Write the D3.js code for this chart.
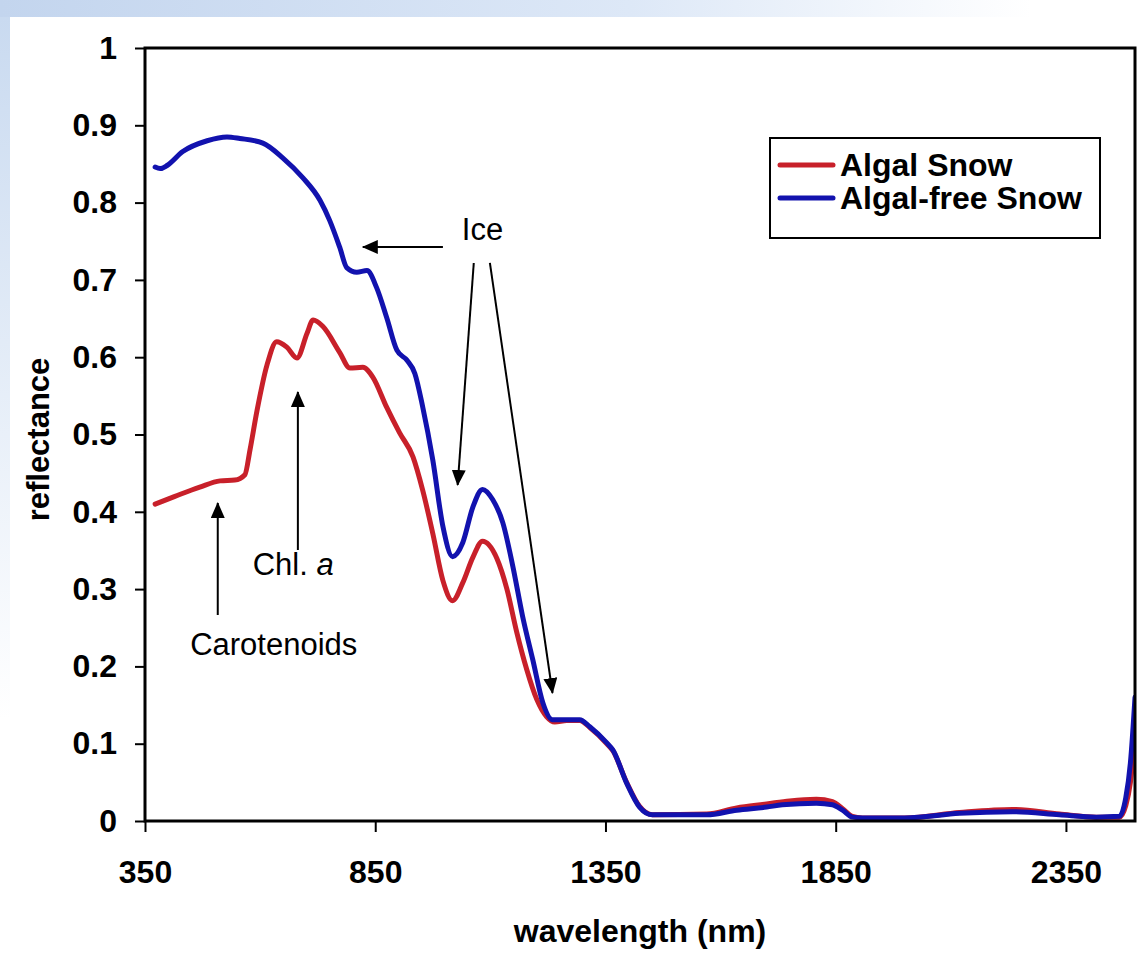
<!DOCTYPE html>
<html>
<head>
<meta charset="utf-8">
<script src="https://cdn.jsdelivr.net/npm/d3@7"></script>
<style>
  html, body { margin: 0; padding: 0; background: #ffffff; }
  svg { display: block; }
  text { font-family: "Liberation Sans", Arial, Helvetica, sans-serif; fill: #000; }
</style>
</head>
<body>
<svg id="chart" width="1146" height="954"></svg>
<script>
// Reflectance spectra of snow, with and without snow algae
const algalWavelengths = [372, 415, 469, 513, 545, 567, 578, 593, 615, 636, 658, 680, 702, 715, 736, 773, 795, 823, 845, 875, 903, 932, 953, 975, 997, 1018, 1040, 1062, 1083, 1114, 1136, 1157, 1179, 1201, 1222, 1240, 1266, 1294, 1316, 1353, 1366, 1396, 1424, 1452, 1570, 1635, 1700, 1750, 1808, 1843, 1865, 1886, 1908, 2000, 2119, 2234, 2336, 2416, 2466, 2480, 2490, 2500];
const algalSnow = [0.41, 0.42, 0.432, 0.44, 0.441, 0.448, 0.48, 0.53, 0.59, 0.62, 0.613, 0.599, 0.631, 0.648, 0.64, 0.606, 0.586, 0.587, 0.574, 0.535, 0.502, 0.471, 0.428, 0.372, 0.311, 0.285, 0.308, 0.341, 0.362, 0.34, 0.30, 0.245, 0.196, 0.157, 0.135, 0.128, 0.13, 0.13, 0.121, 0.10, 0.091, 0.05, 0.019, 0.008, 0.009, 0.017, 0.022, 0.026, 0.028, 0.025, 0.016, 0.006, 0.004, 0.004, 0.011, 0.015, 0.009, 0.005, 0.005, 0.02, 0.05, 0.11];

const freeWavelengths = [372, 383, 398, 432, 485, 528, 556, 606, 649, 693, 730, 751, 773, 788, 810, 832, 853, 875, 897, 919, 936, 953, 975, 997, 1018, 1040, 1062, 1083, 1105, 1127, 1149, 1170, 1192, 1214, 1235, 1266, 1294, 1316, 1353, 1366, 1396, 1424, 1452, 1570, 1635, 1700, 1734, 1808, 1843, 1865, 1886, 1908, 2000, 2119, 2234, 2336, 2416, 2466, 2480, 2490, 2500];
const algalFreeSnow = [0.846, 0.844, 0.848, 0.866, 0.880, 0.885, 0.883, 0.877, 0.858, 0.832, 0.803, 0.777, 0.742, 0.716, 0.71, 0.712, 0.690, 0.651, 0.609, 0.596, 0.579, 0.536, 0.467, 0.381, 0.342, 0.360, 0.406, 0.429, 0.416, 0.386, 0.329, 0.265, 0.209, 0.153, 0.131, 0.131, 0.131, 0.122, 0.101, 0.092, 0.049, 0.018, 0.008, 0.008, 0.014, 0.018, 0.021, 0.023, 0.021, 0.014, 0.005, 0.004, 0.004, 0.010, 0.012, 0.008, 0.005, 0.006, 0.03, 0.075, 0.16];

const xTicks = [350, 850, 1350, 1850, 2350];
const yTicks = [0, 0.1, 0.2, 0.3, 0.4, 0.5, 0.6, 0.7, 0.8, 0.9, 1];

const seriesNames = ["Algal Snow", "Algal-free Snow"];
const seriesColors = ["#c8202a", "#1212ae"];

const svg = d3.select("#chart");
const W = 1146, H = 954;
const plot = { left: 145, right: 1135, top: 48, bottom: 821 };

// Slide backdrop: soft blue bands along the top and left edges
const defs = svg.append("defs");
const gTop = defs.append("linearGradient").attr("id", "bgTop").attr("x1", 0).attr("x2", 1).attr("y1", 0).attr("y2", 0);
gTop.append("stop").attr("offset", "0%").attr("stop-color", "#c3d5ee");
gTop.append("stop").attr("offset", "55%").attr("stop-color", "#dde8f7");
gTop.append("stop").attr("offset", "90%").attr("stop-color", "#ffffff");
const gLeft = defs.append("linearGradient").attr("id", "bgLeft").attr("x1", 0).attr("x2", 0).attr("y1", 0).attr("y2", 1);
gLeft.append("stop").attr("offset", "0%").attr("stop-color", "#c9daf0");
gLeft.append("stop").attr("offset", "75%").attr("stop-color", "#ffffff");

svg.append("rect").attr("width", W).attr("height", H).attr("fill", "#ffffff");
svg.append("rect").attr("x", 0).attr("y", 0).attr("width", W).attr("height", 17).attr("fill", "url(#bgTop)");
svg.append("rect").attr("x", 0).attr("y", 17).attr("width", 10).attr("height", H - 17).attr("fill", "url(#bgLeft)");

defs.append("clipPath").attr("id", "plotClip")
  .append("rect").attr("x", plot.left).attr("y", plot.top)
  .attr("width", plot.right - plot.left).attr("height", plot.bottom - plot.top);

defs.append("marker").attr("id", "arrowHead")
  .attr("markerUnits", "userSpaceOnUse")
  .attr("viewBox", "0 0 16 14").attr("refX", 15).attr("refY", 7)
  .attr("markerWidth", 16).attr("markerHeight", 14).attr("orient", "auto")
  .append("path").attr("d", "M0,0 L16,7 L0,14 Z").attr("fill", "#000");

const x = d3.scaleLinear().domain([350, 2500]).range([plot.left, plot.right]);
const y = d3.scaleLinear().domain([0, 1]).range([plot.bottom, plot.top]);

// Axes
const xAxis = svg.append("g").attr("transform", `translate(0,${plot.bottom})`)
  .call(d3.axisBottom(x).tickValues(xTicks).tickSize(11).tickSizeOuter(0).tickPadding(28).tickFormat(d3.format("d")));
const yAxis = svg.append("g").attr("transform", `translate(${plot.left},0)`)
  .call(d3.axisLeft(y).tickValues(yTicks).tickSize(10).tickSizeOuter(0).tickPadding(18).tickFormat(d => d3.format("")(+d.toFixed(1))));
[xAxis, yAxis].forEach(g => {
  g.select(".domain").remove();
  g.selectAll(".tick line").attr("stroke", "#000").attr("stroke-width", 2);
  g.selectAll(".tick text").attr("font-size", 32).attr("font-weight", "bold")
    .style("font-family", '"Liberation Sans", Arial, sans-serif').attr("fill", "#000");
});

// Spectra
const line = d3.line().x(d => x(d[0])).y(d => y(d[1])).curve(d3.curveMonotoneX);
const series = [
  d3.zip(algalWavelengths, algalSnow),
  d3.zip(freeWavelengths, algalFreeSnow)
];
svg.append("g").attr("clip-path", "url(#plotClip)")
  .selectAll("path").data(series).join("path")
  .attr("d", line)
  .attr("fill", "none")
  .attr("stroke", (d, i) => seriesColors[i])
  .attr("stroke-width", 5)
  .attr("stroke-linejoin", "round")
  .attr("stroke-linecap", "round");

// Plot frame
svg.append("rect").attr("x", plot.left).attr("y", plot.top)
  .attr("width", plot.right - plot.left).attr("height", plot.bottom - plot.top)
  .attr("fill", "none").attr("stroke", "#000").attr("stroke-width", 3);

// Axis titles
svg.append("text").attr("x", (plot.left + plot.right) / 2).attr("y", 942)
  .attr("text-anchor", "middle").attr("font-size", 32).attr("font-weight", "bold")
  .text("wavelength (nm)");
svg.append("text").attr("transform", `translate(49,${(plot.top + plot.bottom) / 2 + 5}) rotate(-90)`)
  .attr("text-anchor", "middle").attr("font-size", 31).attr("font-weight", "bold")
  .text("reflectance");

// Legend
const legend = svg.append("g");
legend.append("rect").attr("x", 770).attr("y", 138).attr("width", 330).attr("height", 100)
  .attr("fill", "#fff").attr("stroke", "#000").attr("stroke-width", 2);
seriesNames.forEach((name, i) => {
  const ly = 165 + i * 33;
  legend.append("line").attr("x1", 780).attr("x2", 833).attr("y1", ly).attr("y2", ly)
    .attr("stroke", seriesColors[i]).attr("stroke-width", 5).attr("stroke-linecap", "round");
  legend.append("text").attr("x", 840).attr("y", ly + 11).attr("font-size", 32).attr("font-weight", "bold").text(name);
});

// Annotations (positions in wavelength / reflectance units)
const arrows = [
  { from: [997, 0.7426], to: [823, 0.7426] },
  { from: [1064, 0.7219], to: [1029, 0.4347] },
  { from: [1099, 0.7219], to: [1235, 0.1656] },
  { from: [682, 0.3506], to: [682, 0.555] },
  { from: [508, 0.2665], to: [508, 0.4114] }
];
svg.append("g").selectAll("line").data(arrows).join("line")
  .attr("x1", d => x(d.from[0])).attr("y1", d => y(d.from[1]))
  .attr("x2", d => x(d.to[0])).attr("y2", d => y(d.to[1]))
  .attr("stroke", "#000").attr("stroke-width", 2)
  .attr("marker-end", "url(#arrowHead)");

const ann = svg.append("g").attr("font-size", 31);
ann.append("text").attr("x", x(1038)).attr("y", y(0.7516)).text("Ice");
const chl = ann.append("text").attr("x", x(584)).attr("y", y(0.3182));
chl.append("tspan").text("Chl. ");
chl.append("tspan").attr("font-style", "italic").text("a");
ann.append("text").attr("x", x(448)).attr("y", y(0.2147)).text("Carotenoids");
</script>
</body>
</html>
